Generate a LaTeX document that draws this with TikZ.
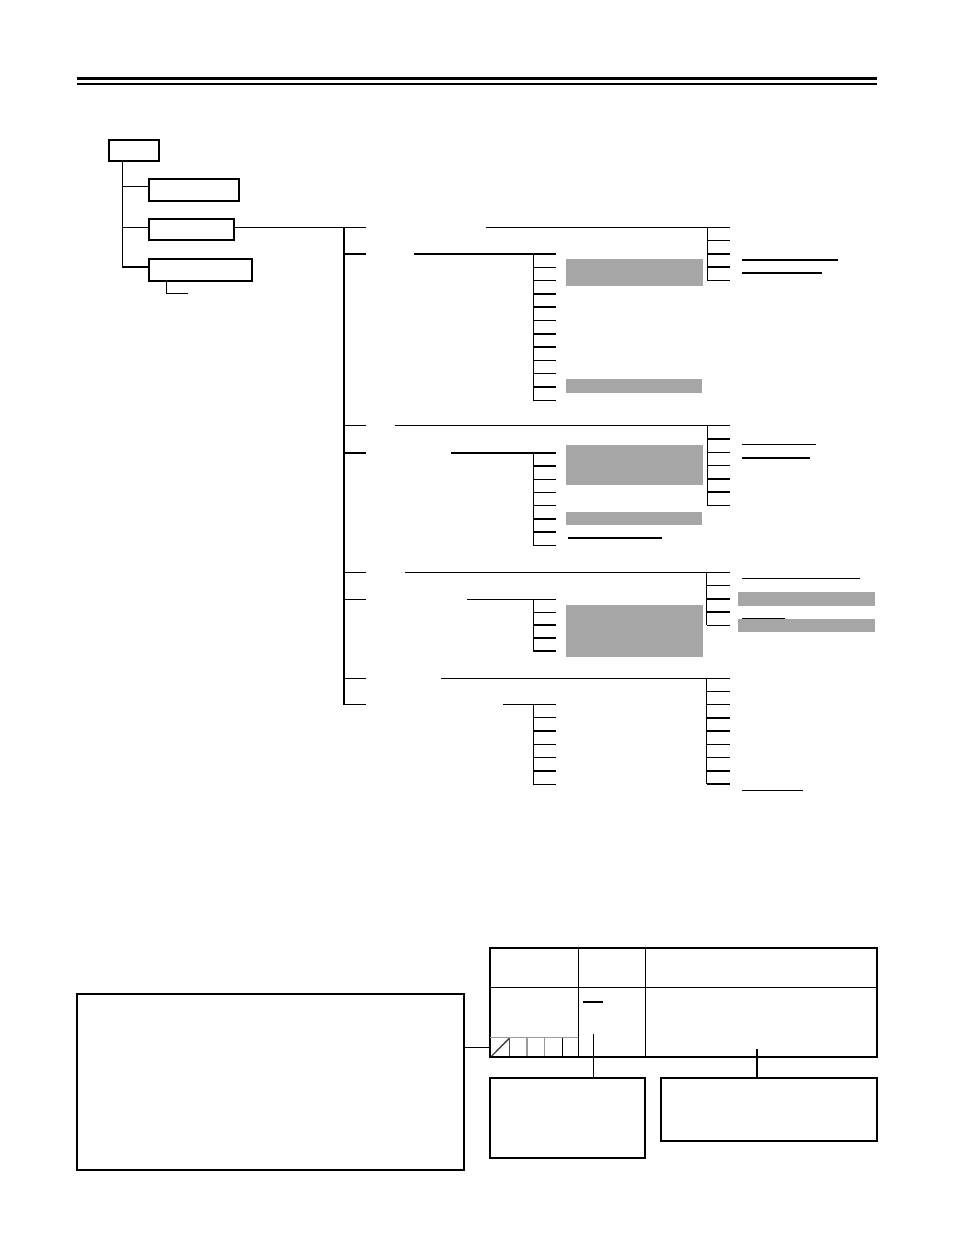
\documentclass[tikz,border=0pt]{standalone}
\usetikzlibrary{fit}
\definecolor{barGray}{HTML}{A6A6A6}
\definecolor{midGray}{HTML}{9A9A9A}
\newcommand\myfan[5]{%
  % #1 trunk x, #2 branch end x, #3 top y, #4 step, #5 count
  \draw[ln] (#1,#3) -- (#1,{#3+(#5-1)*#4});
  \foreach \k in {1,...,#5}{\draw[ln] (#1,{#3+(\k-1)*#4}) -- (#2,{#3+(\k-1)*#4});}%
}
\begin{document}
\begin{tikzpicture}[x=0.75pt,y=-0.75pt,
  ln/.style={line width=1.1pt},
  box/.style={draw, line width=1.3pt, inner sep=0pt},
  bar/.style={fill=barGray, draw=none, inner sep=0pt},
  uthick/.style={line width=1.5pt},
  uthin/.style={line width=1.1pt}]
\useasboundingbox (0,0) rectangle (954,1235);

% header rules
\draw[line width=2.3pt] (77,78.2) -- (877,78.2);
\draw[line width=1.6pt] (77,83.8) -- (877,83.8);

% level 1 boxes
\node[box, fit={(109,140) (158.7,161.3)}] (root) {};
\node[box, fit={(149.3,179.3) (238.7,201.3)}] (b2) {};
\node[box, fit={(149.3,218.7) (234.3,240.3)}] (b3) {};
\node[box, fit={(149.3,259.3) (251.7,280.7)}] (b4) {};

\coordinate (t1) at (122.7,267);
\draw[ln] (t1 |- root.south) -- (t1) -- (b4.west |- t1);
\draw[ln] (122.7,186.7) -- (b2.west |- 0,186.7);
\draw[ln] (122.7,227.7) -- (b3.west |- 0,227.7);
\coordinate (sub4) at (188.3,293.3);
\draw[ln] (166.3,280.7) -- (166.3,293.3) -- (sub4);

% level 2 trunk
\coordinate (T2top) at (344,227.5);
\coordinate (T2bot) at (344,704.3);
\draw[ln] (b3.east |- T2top) -- (366,227.5);
\draw[ln] (T2top) -- (T2bot) -- (366,704.3);
\foreach \y in {254,425.7,453,572.3,599.3,678.3}{\draw[ln] (344,\y) -- (366,\y);}

% group 1
\draw[ln] (486,227.5) -- (707.3,227.5);
\myfan{707.3}{730}{227.5}{13.2}{5}
\draw[ln] (414,254) -- (533.3,254);
\myfan{533.3}{555.7}{254}{13.3}{12}
\node[bar, fit={(566,259) (702.7,285.7)}] (g1) {};
\node[bar, fit={(566,379) (702,392.7)}] (g2) {};
\draw[uthick] (742,259.7) -- (838,259.7);
\draw[uthick] (742,272.7) -- (822,272.7);

% group 2
\draw[ln] (395,425.7) -- (707.3,425.7);
\myfan{707.3}{730}{425.7}{13.27}{7}
\draw[ln] (451,453) -- (533.3,453);
\myfan{533.3}{555.7}{453}{13.19}{8}
\node[bar, fit={(566,444.7) (702.7,484.7)}] (g3) {};
\node[bar, fit={(566,512) (702,525)}] (g4) {};
\draw[uthin] (742,444.7) -- (816,444.7);
\draw[uthin] (742,458) -- (809.7,458);
\draw[uthick] (567.7,537.7) -- (662.3,537.7);

% group 3
\draw[ln] (405,572.3) -- (706.5,572.3);
\myfan{706.5}{730}{572.3}{13.25}{5}
\draw[ln] (467,599.3) -- (533.3,599.3);
\myfan{533.3}{555.7}{599.3}{12.93}{5}
\node[bar, fit={(566,605) (702.7,657)}] (g5) {};
\node[bar, fit={(738,592) (875,605.7)}] (g6) {};
\node[bar, fit={(738,618.7) (875,631.5)}] (g7) {};
\draw[uthin] (742,578.3) -- (860,578.3);
\draw[uthin] (742,618.3) -- (785,618.3);

% group 4
\draw[ln] (441,678.3) -- (706.5,678.3);
\myfan{706.5}{730}{678.3}{13.21}{9}
\draw[ln] (503,704.3) -- (533.3,704.3);
\myfan{533.3}{555.7}{704.3}{13.33}{7}
\draw[uthin] (742,790.3) -- (802.7,790.3);

% bottom section
\node[box, fit={(77.3,994.3) (463.7,1170.3)}] (big) {};
\node[box, fit={(490.3,948.3) (876.7,1057.3)}] (tab) {};
\draw[ln] (578.3,948.3) -- (578.3,1057.3);
\draw[ln] (645.3,948.3) -- (645.3,1057.3);
\draw[ln] (490.3,987.3) -- (876.7,987.3);
\draw[line width=1.1pt, midGray] (490.3,1037.7) -- (578.3,1037.7);
\draw[line width=1pt, black!75] (491.7,1056) -- (509.3,1038.3);
\draw[line width=1.1pt, black!70] (509.3,1038.3) -- (509.3,1056);
\draw[line width=1.1pt, midGray] (527,1038.3) -- (527,1056);
\draw[line width=1.1pt, midGray] (544.7,1038.3) -- (544.7,1056);
\draw[line width=1.1pt] (562.3,1038.3) -- (562.3,1056);
\draw[line width=1pt] (583.3,1002) -- (602.7,1002);

\node[box, fit={(490.3,1078.3) (644.7,1157.7)}] (boxA) {};
\node[box, fit={(661.3,1078.3) (876.7,1141.3)}] (boxB) {};
\draw[ln] (big.east |- 0,1047.3) -- (tab.west |- 0,1047.3);
\draw[ln] (593.3,1034.3) -- (boxA.north -| 593.3,0);
\draw[ln] (757,1049) -- (boxB.north -| 757,0);
\end{tikzpicture}
\end{document}
